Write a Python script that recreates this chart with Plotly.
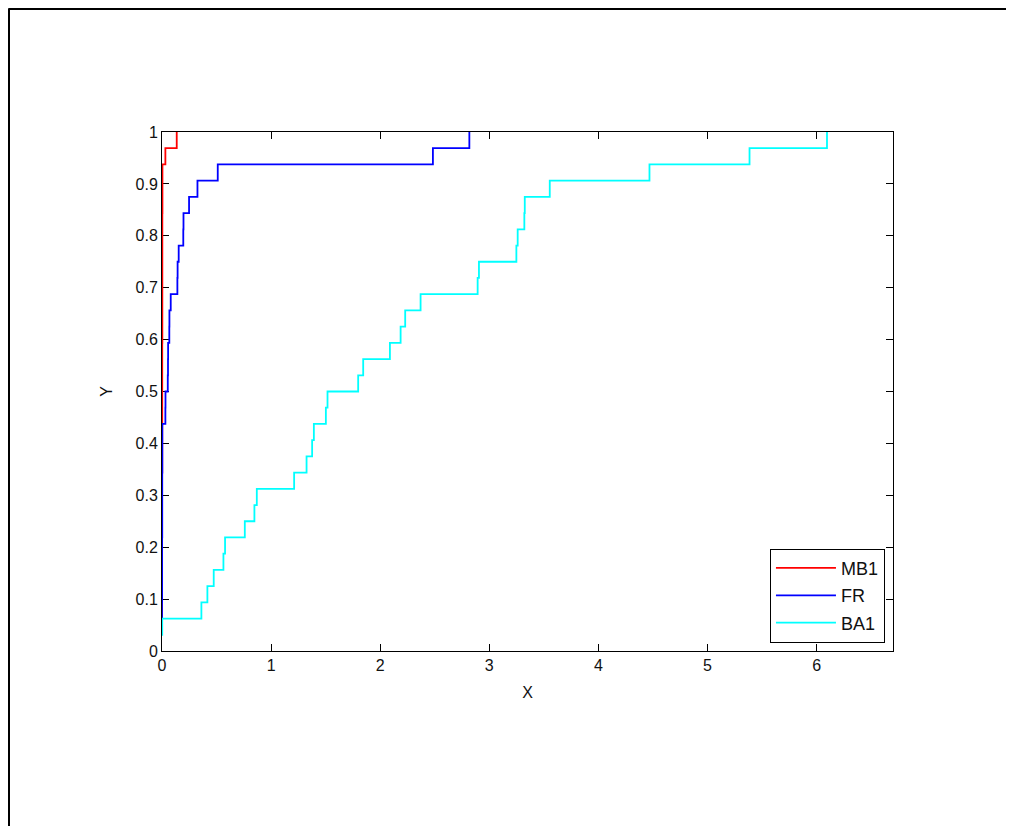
import numpy as np
import plotly.graph_objects as go

# Sample values (sorted) for each series
mb1 = [0.000, 0.000, 0.000, 0.000, 0.001, 0.001, 0.001, 0.001, 0.001, 0.001,
       0.001, 0.002, 0.002, 0.002, 0.002, 0.002, 0.002, 0.002, 0.002, 0.003,
       0.003, 0.003, 0.003, 0.003, 0.003, 0.003, 0.003, 0.004, 0.004, 0.004,
       0.031, 0.135]
fr = [0.000, 0.000, 0.000, 0.001, 0.001, 0.001, 0.001, 0.002, 0.002, 0.002,
      0.002, 0.003, 0.003, 0.003, 0.031, 0.032, 0.053, 0.055, 0.056, 0.067,
      0.068, 0.080, 0.141, 0.143, 0.153, 0.195, 0.197, 0.248, 0.325, 0.511,
      2.483, 2.817]
ba1 = [0.000, 0.002, 0.361, 0.416, 0.474, 0.563, 0.578, 0.759, 0.847, 0.869,
       1.211, 1.325, 1.376, 1.392, 1.502, 1.517, 1.798, 1.844, 2.089, 2.187,
       2.229, 2.370, 2.893, 2.905, 3.248, 3.260, 3.321, 3.325, 3.554, 4.468,
       5.385, 6.095]

series_names = ["MB1", "FR", "BA1"]
series_data = [mb1, fr, ba1]
series_colors = ["#ff0000", "#0000ff", "#00ffff"]

x_ticks = [0, 1, 2, 3, 4, 5, 6]
y_ticks = [round(0.1 * i, 1) for i in range(11)]
y_tick_text = ["0"] + [f"{v:g}" for v in y_ticks[1:-1]] + ["1"]

fig = go.Figure()
for name, data, color in zip(series_names, series_data, series_colors):
    xs = np.sort(np.asarray(data, dtype=float))
    n = len(xs)
    ys = np.arange(1, n + 1) / n  # empirical CDF levels
    fig.add_trace(go.Scatter(
        x=xs, y=ys, mode="lines", name=name, legendgroup=name,
        line=dict(color=color, width=1.8, shape="hv"),
    ))

font_family = "Liberation Sans, Arial, sans-serif"
text_color = "#111111"
axis_common = dict(
    showline=True, linecolor="#000000", linewidth=1, mirror="allticks",
    ticks="inside", ticklen=7, tickwidth=1, tickcolor="#000000",
    showgrid=False, zeroline=False, layer="below traces",
    tickfont=dict(family=font_family, size=16, color=text_color),
)

W, H = 1014, 826
ML, MR, MT, MB = 154, 129, 124, 183

fig.update_layout(
    width=W, height=H,
    margin=dict(l=ML, r=MR, t=MT, b=MB, autoexpand=False),
    paper_bgcolor="white", plot_bgcolor="white",
    font=dict(family=font_family, size=16, color=text_color),
    xaxis=dict(range=[0, 6.7], tickvals=x_ticks,
               title=dict(text="X", standoff=13,
                          font=dict(family=font_family, size=16, color=text_color)),
               **axis_common),
    yaxis=dict(range=[0, 1], tickvals=y_ticks, ticktext=y_tick_text,
               title=dict(text="Y", standoff=18,
                          font=dict(family=font_family, size=16, color=text_color)),
               **axis_common),
    showlegend=True,
    legend=dict(
        x=0.989, y=0.016, xanchor="right", yanchor="bottom",
        bgcolor="white", bordercolor="#000000", borderwidth=1,
        font=dict(family=font_family, size=18, color=text_color),
        traceorder="grouped", tracegroupgap=1, itemwidth=60,
    ),
)

# Outer frame (cropped figure border: top and left edges)
pl, pr, pt, pb = ML, W - MR, MT, H - MB
def px2paper_x(px):
    return (px - pl) / (pr - pl)
def py2paper_y(py):
    return (pb - py) / (pb - pt)
fig.add_shape(type="line", xref="paper", yref="paper",
              x0=px2paper_x(0.5), x1=px2paper_x(W + 5),
              y0=py2paper_y(0.5), y1=py2paper_y(0.5),
              line=dict(color="black", width=3))
fig.add_shape(type="line", xref="paper", yref="paper",
              x0=px2paper_x(0.5), x1=px2paper_x(0.5),
              y0=py2paper_y(0.5), y1=py2paper_y(H + 5),
              line=dict(color="black", width=3))

fig.write_html("out.html")
